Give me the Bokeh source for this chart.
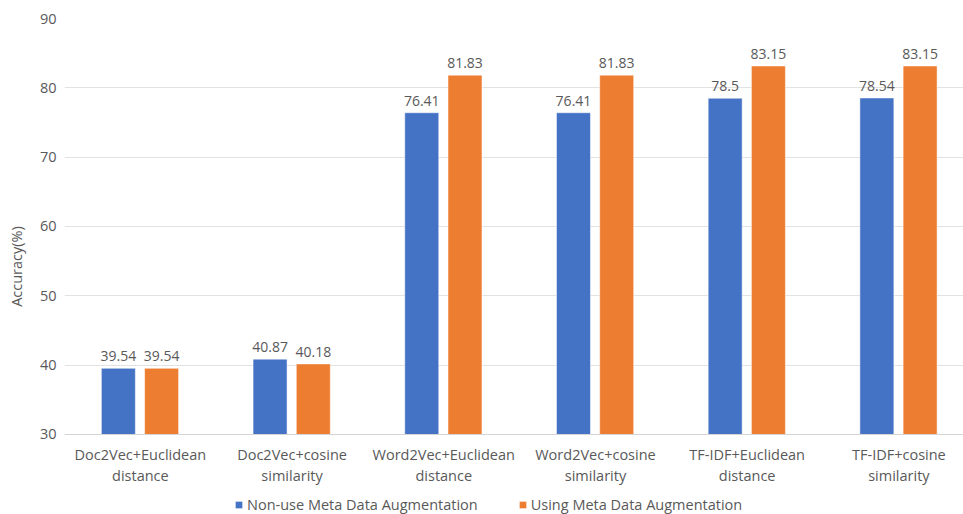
from bokeh.plotting import figure
from bokeh.models import ColumnDataSource, FixedTicker, Legend, LegendItem, Span
from bokeh.core.properties import value
from bokeh.transform import dodge
from bokeh.embed import file_html
from bokeh.resources import INLINE

# Retrieval method combinations and their accuracy (%)
methods = [
    "Doc2Vec+Euclidean\ndistance",
    "Doc2Vec+cosine\nsimilarity",
    "Word2Vec+Euclidean\ndistance",
    "Word2Vec+cosine\nsimilarity",
    "TF-IDF+Euclidean\ndistance",
    "TF-IDF+cosine\nsimilarity",
]
non_use = [39.54, 40.87, 76.41, 76.41, 78.5, 78.54]
using = [39.54, 40.18, 81.83, 81.83, 83.15, 83.15]
y_ticks = [30, 40, 50, 60, 70, 80, 90]

FONT = "Open Sans"
TEXT = "#595959"
BLUE = "#4472C4"
ORANGE = "#ED7D31"
BASE = 30

idx = list(range(len(methods)))
src = ColumnDataSource(dict(
    x=idx,
    name=methods,
    base=[BASE] * len(methods),
    non_use=non_use,
    using=using,
    non_use_lbl=[f"{v:g}" for v in non_use],
    using_lbl=[f"{v:g}" for v in using],
))

# the frame runs down to the page bottom so the category labels and
# the legend can sit beneath the 30% baseline
p = figure(width=963, height=514, output_backend="svg", toolbar_location=None,
           x_range=(-0.5, 5.426), y_range=(18.46, 90),
           min_border_left=64, min_border_right=0, min_border_top=18,
           min_border_bottom=0)
p.outline_line_color = None
p.background_fill_color = "white"
p.border_fill_color = "white"
p.xaxis.visible = False
p.xgrid.grid_line_color = None

w = 0.224
r1 = p.vbar(x=dodge("x", -0.145), top="non_use", bottom=BASE, width=w,
            source=src, fill_color=BLUE, line_color="white", line_width=0.5)
r2 = p.vbar(x=dodge("x", 0.14), top="using", bottom=BASE, width=w,
            source=src, fill_color=ORANGE, line_color="white", line_width=0.5)

# value labels above the bars
for col, off in (("non_use", -0.145), ("using", 0.14)):
    p.text(x=dodge("x", off), y=col, text=col + "_lbl", source=src,
           text_align="center", text_baseline="bottom", y_offset=-7,
           text_font=value(FONT), text_font_size="14px", text_color=TEXT)

# category labels under the baseline
p.text(x="x", y="base", text="name", source=src, text_align="center",
       text_baseline="top", y_offset=11, text_line_height=1.07,
       text_font=value(FONT), text_font_size="14.5px", text_color=TEXT)

p.add_layout(Span(location=BASE, dimension="width", line_color="#d4d4d4",
                  line_width=1))

# y axis
p.yaxis.ticker = FixedTicker(ticks=y_ticks)
p.yaxis.axis_label = "Accuracy(%)"
p.yaxis.axis_label_text_font = FONT
p.yaxis.axis_label_text_font_style = "normal"
p.yaxis.axis_label_text_font_size = "14.5px"
p.yaxis.axis_label_text_color = TEXT
p.yaxis.axis_label_standoff = 11
p.yaxis.major_label_text_font = FONT
p.yaxis.major_label_text_font_size = "14.5px"
p.yaxis.major_label_text_color = TEXT
p.yaxis.major_tick_line_color = None
p.yaxis.minor_tick_line_color = None
p.yaxis.major_tick_out = 0
p.yaxis.axis_line_color = None
p.yaxis.major_label_standoff = 8
p.ygrid.grid_line_color = "#e2e2e2"
p.ygrid.grid_line_width = 1

legend = Legend(items=[
    LegendItem(label="Non-use Meta Data Augmentation", renderers=[r1]),
    LegendItem(label="Using Meta Data Augmentation", renderers=[r2]),
], orientation="horizontal", location=(170, 0))
legend.label_text_font = FONT
legend.label_text_font_size = "14.5px"
legend.label_text_color = TEXT
legend.glyph_width = 9
legend.glyph_height = 9
legend.spacing = 40
legend.label_standoff = 4
legend.border_line_color = None
legend.background_fill_alpha = 0
legend.padding = 2
legend.margin = 0
p.add_layout(legend, "center")

open("out.html", "w").write(file_html(p, INLINE))
